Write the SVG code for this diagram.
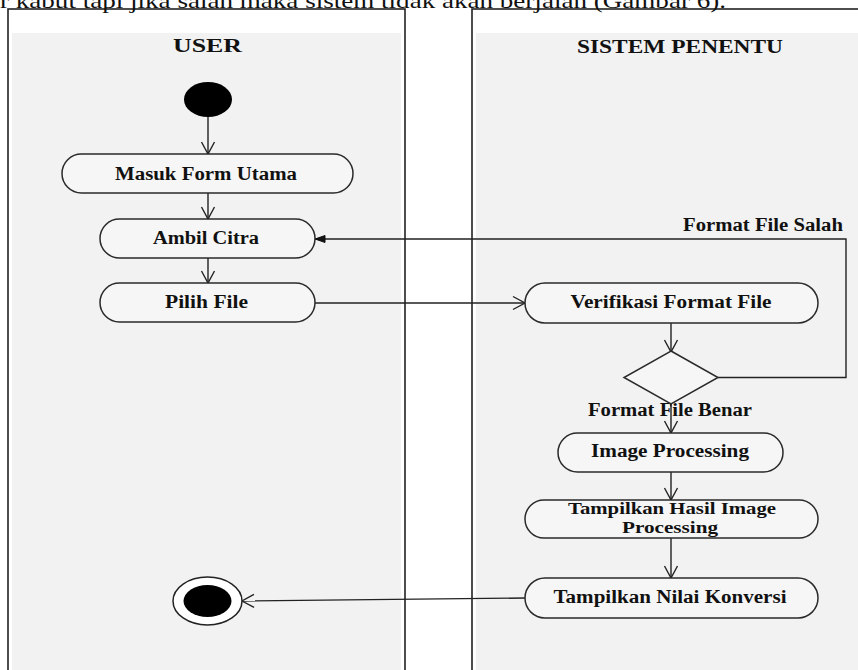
<svg xmlns="http://www.w3.org/2000/svg" width="858" height="670" viewBox="0 0 858 670">
  <style>
    .lane { fill: #ffffff; stroke: #222; stroke-width: 1.6; }
    .laneBody { fill: #f2f2f2; }
    .act { fill: #f6f6f6; stroke: #2a2a2a; stroke-width: 1.5; }
    .t { font-family: "Liberation Serif", "Times New Roman", serif; font-weight: bold; font-size: 18px; fill: #111; }
    .t2 { font-family: "Liberation Serif", "Times New Roman", serif; font-weight: bold; font-size: 16.5px; fill: #111; }
    .h { font-family: "Liberation Serif", "Times New Roman", serif; font-weight: bold; font-size: 19.5px; fill: #111; }
    .top { font-family: "Liberation Serif", "Times New Roman", serif; font-size: 21px; fill: #111; }
    .c { fill: none; stroke: #222; stroke-width: 1.4; }
  </style>
  <defs>
    <marker id="open" markerUnits="userSpaceOnUse" markerWidth="16" markerHeight="16" refX="14" refY="8" orient="auto">
      <path d="M2,1.5 L14,8 L2,14.5" fill="none" stroke="#222" stroke-width="1.4"/>
    </marker>
    <marker id="filled" markerUnits="userSpaceOnUse" markerWidth="12" markerHeight="10" refX="11" refY="5" orient="auto">
      <path d="M1,1.5 L11,5 L1,8.5 z" fill="#111" stroke="#111" stroke-width="1"/>
    </marker>
  </defs>

  <rect width="858" height="670" fill="#ffffff"/>

  <g id="lane-user">
    <rect class="lane" x="8" y="9" width="397" height="680"/>
    <rect class="laneBody" x="12" y="33" width="389" height="640"/>
    <text class="h" x="207.5" y="52" text-anchor="middle" textLength="69" lengthAdjust="spacingAndGlyphs">USER</text>
  </g>
  <g id="lane-sistem">
    <rect class="lane" x="472" y="9" width="400" height="680"/>
    <rect class="laneBody" x="476" y="33" width="392" height="640"/>
    <text class="h" x="680" y="53" text-anchor="middle" textLength="206" lengthAdjust="spacingAndGlyphs">SISTEM PENENTU</text>
  </g>

  <text class="top" x="0" y="7.5" textLength="726" lengthAdjust="spacingAndGlyphs">r kabut tapi jika salah maka sistem tidak akan berjalan (Gambar 6).</text>

  <g id="connectors">
    <path class="c" d="M208,117 V154" marker-end="url(#open)"/>
    <path class="c" d="M208,193 V219" marker-end="url(#open)"/>
    <path class="c" d="M208,258 V283" marker-end="url(#open)"/>
    <path class="c" d="M315,303 H525" marker-end="url(#open)"/>
    <path class="c" d="M671,323 V352" marker-end="url(#open)"/>
    <path class="c" d="M671,404 V433" marker-end="url(#open)"/>
    <path class="c" d="M671,472 V500" marker-end="url(#open)"/>
    <path class="c" d="M671,538 V578" marker-end="url(#open)"/>
    <path class="c" d="M525,598 L242,601" marker-end="url(#open)"/>
    <path class="c" d="M718,377.5 H846 V239 H315" marker-end="url(#filled)"/>
    <text class="t" x="843" y="231" text-anchor="end" textLength="160" lengthAdjust="spacingAndGlyphs">Format File Salah</text>
    <text class="t" x="588" y="415.5" textLength="164" lengthAdjust="spacingAndGlyphs">Format File Benar</text>
  </g>

  <g id="start">
    <ellipse cx="208" cy="99.5" rx="24" ry="17.5" fill="#000"/>
  </g>

  <g id="masuk-form-utama">
    <rect class="act" x="62" y="154" width="291" height="39" rx="19.5"/>
    <text class="t" x="206" y="179.5" text-anchor="middle" textLength="182" lengthAdjust="spacingAndGlyphs">Masuk Form Utama</text>
  </g>
  <g id="ambil-citra">
    <rect class="act" x="100" y="219" width="215" height="39" rx="19.5"/>
    <text class="t" x="206" y="244" text-anchor="middle" textLength="106" lengthAdjust="spacingAndGlyphs">Ambil Citra</text>
  </g>
  <g id="pilih-file">
    <rect class="act" x="100" y="283" width="215" height="39" rx="19.5"/>
    <text class="t" x="206.5" y="308" text-anchor="middle" textLength="83" lengthAdjust="spacingAndGlyphs">Pilih File</text>
  </g>
  <g id="verifikasi-format-file">
    <rect class="act" x="525" y="283" width="293" height="40" rx="20"/>
    <text class="t" x="671" y="308" text-anchor="middle" textLength="201" lengthAdjust="spacingAndGlyphs">Verifikasi Format File</text>
  </g>
  <g id="decision">
    <polygon class="act" points="671,351 718,377.5 671,404 624,377.5"/>
  </g>
  <g id="image-processing">
    <rect class="act" x="558" y="433" width="225" height="39" rx="19.5"/>
    <text class="t" x="670" y="456.5" text-anchor="middle" textLength="158" lengthAdjust="spacingAndGlyphs">Image Processing</text>
  </g>
  <g id="tampilkan-hasil">
    <rect class="act" x="525" y="500" width="293" height="38" rx="19"/>
    <text class="t2" x="672" y="514" text-anchor="middle" textLength="208" lengthAdjust="spacingAndGlyphs">Tampilkan Hasil Image</text>
    <text class="t2" x="670" y="533" text-anchor="middle" textLength="96" lengthAdjust="spacingAndGlyphs">Processing</text>
  </g>
  <g id="tampilkan-nilai">
    <rect class="act" x="525" y="578" width="293" height="40" rx="20"/>
    <text class="t" x="670" y="603" text-anchor="middle" textLength="233" lengthAdjust="spacingAndGlyphs">Tampilkan Nilai Konversi</text>
  </g>
  <g id="end">
    <ellipse cx="207.5" cy="601" rx="34.5" ry="24" fill="#fff" stroke="#222" stroke-width="1.5"/>
    <ellipse cx="207.5" cy="601" rx="24" ry="16" fill="#000"/>
  </g>
</svg>
